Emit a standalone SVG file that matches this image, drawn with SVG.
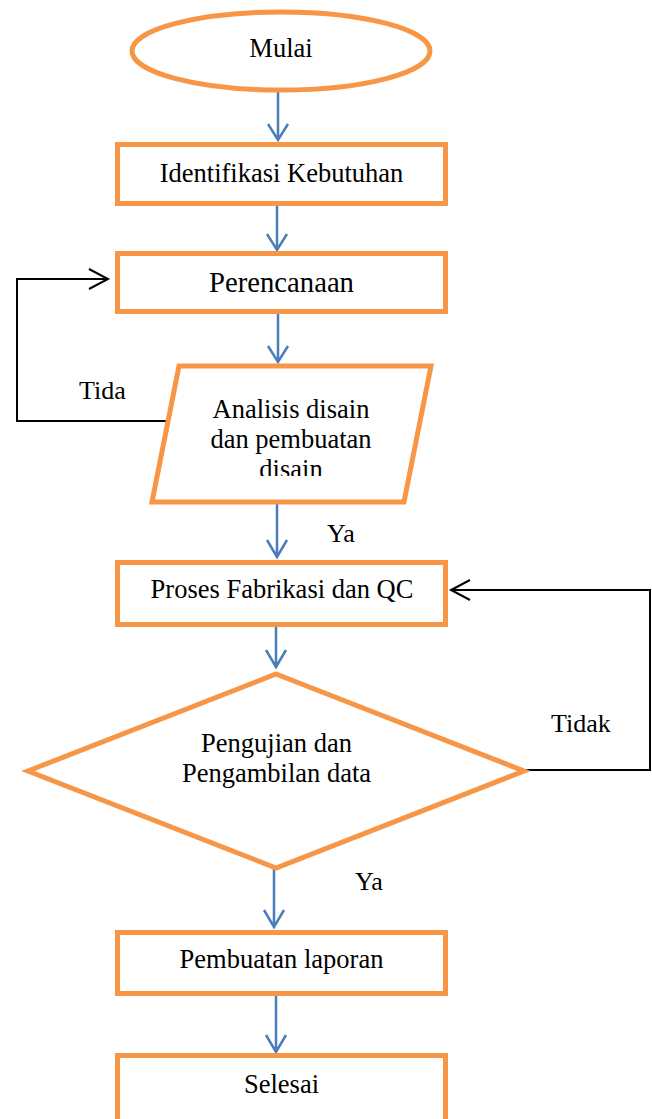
<svg xmlns="http://www.w3.org/2000/svg" width="652" height="1119" viewBox="0 0 652 1119">
<style>
.n{fill:#fff;stroke:#F79646;stroke-width:5}
.t{font-family:"Liberation Serif","Times New Roman",serif;font-size:26.5px;fill:#000;text-anchor:middle}
.l{font-family:"Liberation Serif","Times New Roman",serif;font-size:26px;fill:#000}
.b{fill:none;stroke:#4A7EBB;stroke-width:2.5}
.k{fill:none;stroke:#000;stroke-width:2}
</style>
<defs>
<clipPath id="clipA"><rect x="140" y="360" width="300" height="116"/></clipPath>
</defs>
<rect width="652" height="1119" fill="#fff"/>
<g id="connectors">
<path class="b" d="M278 92V140M268 124L278 140L288 124"/>
<path class="b" d="M277 206V250M267 234L277 250L287 234"/>
<path class="b" d="M278 314V362M268 346L278 362L288 346"/>
<path class="b" d="M277 504V557M267 540L277 557L287 540"/>
<path class="b" d="M276 627V667M266 650L276 667L286 650"/>
<path class="b" d="M274 869V927M264 910L274 927L284 910"/>
<path class="b" d="M276 996V1052M266 1035L276 1052L286 1035"/>
<path class="k" d="M170 421H17V279H108M89 269L108 279L89 289"/>
<path class="k" d="M526 770H650V590H451M470 580L451 590L470 600"/>
<text class="l" x="79" y="399">Tida</text>
<text class="l" x="327" y="542">Ya</text>
<text class="l" x="551" y="732">Tidak</text>
<text class="l" x="355" y="890">Ya</text>
</g>
<g id="mulai">
<ellipse class="n" cx="281" cy="51" rx="149" ry="39"/>
<text class="t" x="281" y="57">Mulai</text>
</g>
<g id="identifikasi">
<rect class="n" x="117.5" y="144.5" width="328" height="59"/>
<text class="t" x="281.5" y="182">Identifikasi Kebutuhan</text>
</g>
<g id="perencanaan">
<rect class="n" x="117.5" y="253.5" width="328" height="58"/>
<text class="t" x="281.5" y="292" style="font-size:28.7px">Perencanaan</text>
</g>
<g id="analisis">
<polygon class="n" points="179,366 431,366 404,502 152,502"/>
<g clip-path="url(#clipA)">
<text class="t" x="291" y="418">Analisis disain</text>
<text class="t" x="291" y="448">dan pembuatan</text>
<text class="t" x="291" y="478">disain</text>
</g>
</g>
<g id="proses">
<rect class="n" x="117.5" y="562.5" width="328" height="62"/>
<text class="t" x="282" y="598">Proses Fabrikasi dan QC</text>
</g>
<g id="pengujian">
<polygon class="n" points="276,674 524,771 276,868 28,771"/>
<text class="t" x="276.5" y="752">Pengujian dan</text>
<text class="t" x="276.5" y="782">Pengambilan data</text>
</g>
<g id="pembuatan">
<rect class="n" x="117.5" y="932.5" width="328" height="61"/>
<text class="t" x="281.5" y="968">Pembuatan laporan</text>
</g>
<g id="selesai">
<rect class="n" x="117.5" y="1055.5" width="328" height="70"/>
<text class="t" x="281.5" y="1093">Selesai</text>
</g>
</svg>
